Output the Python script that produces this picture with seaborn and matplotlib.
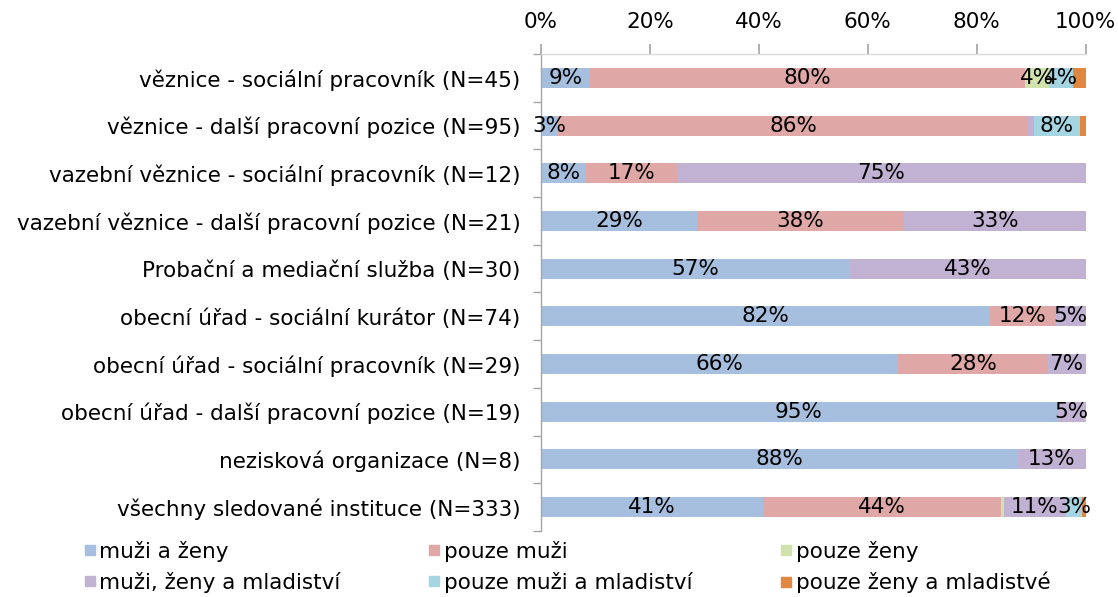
import numpy as np
import pandas as pd
import matplotlib
matplotlib.use("Agg")
import matplotlib.pyplot as plt
from matplotlib.lines import Line2D
import seaborn as sns

sns.set_theme(style="white")
plt.rcParams["font.family"] = ["DejaVu Sans"]
plt.rcParams["text.color"] = "black"
plt.rcParams["xtick.color"] = "black"
plt.rcParams["ytick.color"] = "black"

# categories (top to bottom) and respondent counts
CATEGORIES = [
    "věznice - sociální pracovník (N=45)",
    "věznice - další pracovní pozice (N=95)",
    "vazební věznice - sociální pracovník (N=12)",
    "vazební věznice - další pracovní pozice (N=21)",
    "Probační a mediační služba (N=30)",
    "obecní úřad - sociální kurátor (N=74)",
    "obecní úřad - sociální pracovník (N=29)",
    "obecní úřad - další pracovní pozice (N=19)",
    "nezisková organizace (N=8)",
    "všechny sledované instituce (N=333)",
]
N_TOTAL = [45, 95, 12, 21, 30, 74, 29, 19, 8, 333]

SERIES = [
    "muži a ženy",
    "pouze muži",
    "pouze ženy",
    "muži, ženy a mladiství",
    "pouze muži a mladiství",
    "pouze ženy a mladistvé",
]
muzi_a_zeny          = [4, 3, 1, 6, 17, 61, 19, 18, 7, 136]
pouze_muzi           = [36, 82, 2, 8, 0, 9, 8, 0, 0, 145]
pouze_zeny           = [2, 0, 0, 0, 0, 0, 0, 0, 0, 2]
muzi_zeny_mladistvi  = [0, 1, 9, 7, 13, 4, 2, 1, 1, 38]
pouze_muzi_mladistvi = [2, 8, 0, 0, 0, 0, 0, 0, 0, 10]
pouze_zeny_mladistve = [1, 1, 0, 0, 0, 0, 0, 0, 0, 2]

COLORS = ["#a7bfde", "#dfa7a6", "#d1e2ad", "#c1b1d3", "#a5d5e2", "#e08741"]

counts = pd.DataFrame(
    np.column_stack([muzi_a_zeny, pouze_muzi, pouze_zeny, muzi_zeny_mladistvi,
                     pouze_muzi_mladistvi, pouze_zeny_mladistve]),
    index=CATEGORIES, columns=SERIES,
)
shares = counts.div(N_TOTAL, axis=0)
cum = shares.cumsum(axis=1)

FS = 15.5
GRAY = "#a6a6a6"

fig = plt.figure(figsize=(11.18, 5.97), dpi=100)
ax = fig.add_axes([0.484, 0.1106, 0.487, 0.799])

# stacked bars: draw cumulative totals from the last series backwards
for i in range(len(SERIES) - 1, -1, -1):
    s = SERIES[i]
    sns.barplot(x=cum[s].values, y=CATEGORIES, orient="h", color=COLORS[i],
                saturation=1, width=0.42, linewidth=0, ax=ax)

# value labels
for r, cat in enumerate(CATEGORIES):
    for s in SERIES:
        v = shares.loc[cat, s]
        if v >= 0.025:
            xc = cum.loc[cat, s] - v / 2
            ax.text(xc, r, f"{int(np.floor(v * 100 + 0.5))}%", ha="center",
                    va="center", fontsize=FS, color="black")

ax.set_xlim(0, 1)
ax.set_ylim(len(CATEGORIES) - 0.5, -0.5)
ax.xaxis.tick_top()
ax.set_xticks(np.arange(0, 1.01, 0.2))
ax.set_xticklabels([f"{int(t * 100)}%" for t in np.arange(0, 1.01, 0.2)])
ax.tick_params(axis="x", which="major", length=7, color=GRAY, labelsize=FS,
               pad=9, top=True, bottom=False)
ax.set_xlabel("")
ax.set_ylabel("")

ax.set_yticks(range(len(CATEGORIES)))
ax.set_yticklabels(CATEGORIES)
ax.set_yticks(np.arange(-0.5, len(CATEGORIES), 1), minor=True)
ax.tick_params(axis="y", which="major", length=0, pad=15, labelsize=FS)
ax.tick_params(axis="y", which="minor", length=6, color=GRAY, left=True)

for side in ["right", "bottom"]:
    ax.spines[side].set_visible(False)
for side in ["top", "left"]:
    ax.spines[side].set_color(GRAY)
    ax.spines[side].set_linewidth(1)
ax.spines["top"].set_color("#d9d9d9")

# legend, row-wise ordering with 3 columns
handles = [Line2D([0], [0], marker="s", linestyle="", markersize=7.5,
                  markerfacecolor=c, markeredgecolor=c) for c in COLORS]
order = [0, 3, 1, 4, 2, 5]
fig.legend([handles[i] for i in order], [SERIES[i] for i in order],
           loc="upper left", bbox_to_anchor=(0.058, 0.127), ncol=3,
           frameon=False, fontsize=FS, handlelength=0.5, handletextpad=0.2,
           columnspacing=4.1, labelspacing=0.47)

fig.savefig("out.png", dpi=100)
